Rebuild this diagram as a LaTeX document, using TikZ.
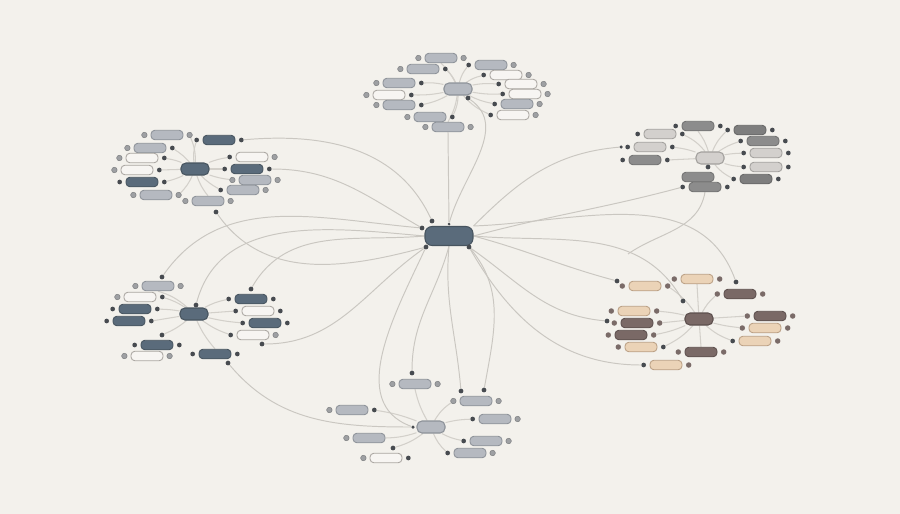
\documentclass[tikz,border=0pt]{standalone}
\usepackage{tikz}
\usetikzlibrary{positioning}

\definecolor{bgcol}{HTML}{F3F1EC}
\definecolor{edgecol}{HTML}{CAC7C1}
\definecolor{spokecol}{HTML}{D3D0CA}
\definecolor{slatefill}{HTML}{5A6B7B}
\definecolor{slateline}{HTML}{47545F}
\definecolor{bluefill}{HTML}{B5B9C0}
\definecolor{blueline}{HTML}{8D9299}
\definecolor{paperfill}{HTML}{F7F5F2}
\definecolor{paperline}{HTML}{ABA7A2}
\definecolor{lgfill}{HTML}{D3D0CD}
\definecolor{lgline}{HTML}{A2A09D}
\definecolor{mgfill}{HTML}{8C8C8C}
\definecolor{mgline}{HTML}{727272}
\definecolor{dgfill}{HTML}{7E7E7E}
\definecolor{dgline}{HTML}{666666}
\definecolor{brownfill}{HTML}{7A6966}
\definecolor{brownline}{HTML}{5C4F4D}
\definecolor{beigefill}{HTML}{EBD3B7}
\definecolor{beigeline}{HTML}{BBA085}
\definecolor{dotdark}{HTML}{474B50}
\definecolor{dotgray}{HTML}{9EA0A3}
\definecolor{dotbrown}{HTML}{7A6B68}

\pgfdeclarelayer{bg}
\pgfsetlayers{bg,main}

\tikzset{
  leaf/.style={rounded corners=2.2pt, minimum width=0.64cm, minimum height=0.19cm, inner sep=0pt, line width=0.5pt},
  hub/.style={rounded corners=2.8pt, minimum width=0.56cm, minimum height=0.24cm, inner sep=0pt, line width=0.6pt},
  slate/.style={fill=slatefill, draw=slateline},
  bluegray/.style={fill=bluefill, draw=blueline},
  paper/.style={fill=paperfill, draw=paperline},
  lightgray/.style={fill=lgfill, draw=lgline},
  midgray/.style={fill=mgfill, draw=mgline},
  darkgray/.style={fill=dgfill, draw=dgline},
  brown/.style={fill=brownfill, draw=brownline},
  beige/.style={fill=beigefill, draw=beigeline},
  dotd/.style={circle, fill=dotdark, inner sep=0pt, minimum size=0.095cm},
  dotg/.style={circle, fill=dotgray, draw=dotgray!80!black, line width=0.3pt, inner sep=0pt, minimum size=0.11cm},
  dotb/.style={circle, fill=dotbrown, inner sep=0pt, minimum size=0.11cm},
  nodot/.style={inner sep=0pt, minimum size=0.1cm},
  spoke/.style={draw=spokecol, line width=0.6pt},
  link/.style={draw=edgecol, line width=0.55pt}
}

\newcommand{\leaf}[6]{%
  \node[leaf,#4] (#1) at (#2,#3) {};
  \node[#5, left=1.8pt of #1] (#1-l) {};
  \node[#6, right=1.8pt of #1] (#1-r) {};}

\begin{document}
\begin{tikzpicture}[x=0.02cm, y=-0.02cm]
                      \useasboundingbox (0,0) rectangle (900,514);

                      \node[hub, slate, rounded corners=4pt, minimum width=0.96cm, minimum height=0.38cm] (mh) at (449,236) {};
                      \node[dotd] (m1) at (432,221) {};
                      \node[dotd, minimum size=0.06cm] (m2) at (449,224) {};
                      \node[dotd] (m3) at (422,228) {};
                      \node[dotd] (m4) at (426,247) {};
                      \node[dotd] (m5) at (469,247) {};

                      \node[hub, bluegray] (th) at (458,89) {};
                      \leaf{t1}{441}{58}{bluegray}{dotg}{dotg}
                      \leaf{t2}{423}{69}{bluegray}{dotg}{dotd}
                      \leaf{t3}{491}{65}{bluegray}{dotd}{dotg}
                      \leaf{t4}{506}{75}{paper}{dotd}{dotg}
                      \leaf{t5}{399}{83}{bluegray}{dotg}{dotd}
                      \leaf{t6}{521}{84}{paper}{dotd}{dotg}
                      \leaf{t7}{389}{95}{paper}{dotg}{dotd}
                      \leaf{t8}{525}{94}{paper}{dotd}{dotg}
                      \leaf{t9}{399}{105}{bluegray}{dotg}{dotd}
                      \leaf{t10}{517}{104}{bluegray}{dotd}{dotg}
                      \leaf{t11}{430}{117}{bluegray}{dotg}{dotd}
                      \leaf{t12}{513}{115}{paper}{dotd}{dotg}
                      \leaf{t13}{448}{127}{bluegray}{dotg}{dotg}
                      \node[dotd] (tx) at (468,98) {};

                      \node[hub, slate] (lh) at (195,169) {};
                      \leaf{l1}{167}{135}{bluegray}{dotg}{dotg}
                      \leaf{l2}{219}{140}{slate}{dotd}{dotd}
                      \leaf{l3}{150}{148}{bluegray}{dotg}{dotd}
                      \leaf{l4}{142}{158}{paper}{dotg}{dotd}
                      \leaf{l5}{252}{157}{paper}{dotd}{dotg}
                      \leaf{l6}{137}{170}{paper}{dotg}{dotd}
                      \leaf{l7}{247}{169}{slate}{dotd}{dotd}
                      \leaf{l8}{255}{180}{bluegray}{dotg}{dotg}
                      \leaf{l9}{142}{182}{slate}{dotd}{dotd}
                      \leaf{l10}{243}{190}{bluegray}{dotd}{dotg}
                      \leaf{l11}{156}{195}{bluegray}{dotg}{dotg}
                      \leaf{l12}{208}{201}{bluegray}{dotg}{dotg}
                      \node[dotd] (lx) at (216,212) {};

                      \node[hub, lightgray] (rh) at (710,158) {};
                      \leaf{r1}{698}{126}{midgray}{dotd}{dotd}
                      \leaf{r2}{660}{134}{lightgray}{dotd}{dotd}
                      \leaf{r3}{750}{130}{darkgray}{dotd}{dotd}
                      \leaf{r4}{763}{141}{midgray}{dotd}{dotd}
                      \leaf{r5}{650}{147}{lightgray}{dotd}{dotd}
                      \leaf{r6}{766}{153}{lightgray}{dotd}{dotd}
                      \leaf{r7}{645}{160}{midgray}{dotd}{dotd}
                      \leaf{r8}{766}{167}{lightgray}{dotd}{dotd}
                      \node[leaf, midgray] (r9) at (698,177) {};
                      \leaf{r10}{705}{187}{midgray}{dotd}{dotd}
                      \leaf{r11}{756}{179}{darkgray}{dotd}{dotd}
                      \node[dotd] (rx) at (708,167) {};
                      \node[dotd, minimum size=0.07cm] (ry) at (621,147) {};
                      \coordinate (rz) at (628,254);

                      \node[hub, slate] (blh) at (194,314) {};
                      \leaf{bl1}{158}{286}{bluegray}{dotg}{dotg}
                      \leaf{bl2}{140}{297}{paper}{dotg}{dotd}
                      \leaf{bl3}{251}{299}{slate}{dotd}{dotd}
                      \leaf{bl4}{135}{309}{slate}{dotd}{dotd}
                      \leaf{bl5}{258}{311}{paper}{dotd}{dotd}
                      \leaf{bl6}{129}{321}{slate}{dotd}{dotd}
                      \leaf{bl7}{265}{323}{slate}{dotd}{dotd}
                      \leaf{bl8}{253}{335}{paper}{dotd}{dotg}
                      \leaf{bl9}{157}{345}{slate}{dotd}{dotd}
                      \leaf{bl10}{147}{356}{paper}{dotg}{dotg}
                      \leaf{bl11}{215}{354}{slate}{dotd}{dotd}
                      \node[dotd] (blx1) at (162,277) {};
                      \node[dotd] (blx2) at (251,289) {};
                      \node[dotd] (blx3) at (196,305) {};
                      \node[dotd] (blx4) at (162,335) {};
                      \node[dotd] (blx5) at (262,344) {};
                      \node[dotd] (blx6) at (228,363) {};

                      \node[hub, brown] (brh) at (699,319) {};
                      \leaf{br1}{645}{286}{beige}{dotb}{dotb}
                      \leaf{br2}{697}{279}{beige}{dotb}{dotb}
                      \leaf{br3}{740}{294}{brown}{dotb}{dotb}
                      \leaf{br4}{634}{311}{beige}{dotb}{dotb}
                      \leaf{br5}{770}{316}{brown}{dotb}{dotb}
                      \leaf{br6}{637}{323}{brown}{dotb}{dotb}
                      \leaf{br7}{765}{328}{beige}{dotb}{dotb}
                      \leaf{br8}{631}{335}{brown}{dotb}{dotb}
                      \leaf{br9}{755}{341}{beige}{dotd}{dotb}
                      \leaf{br10}{641}{347}{beige}{dotb}{dotd}
                      \leaf{br11}{701}{352}{brown}{dotb}{dotb}
                      \leaf{br12}{666}{365}{beige}{dotd}{dotb}
                      \node[dotd] (brx1) at (617,281) {};
                      \node[dotd] (brx2) at (736,282) {};
                      \node[dotd] (brx3) at (683,301) {};
                      \node[dotd] (brx4) at (607,321) {};

                      \node[hub, bluegray] (bh) at (431,427) {};
                      \leaf{b1}{415}{384}{bluegray}{dotg}{dotg}
                      \leaf{b2}{476}{401}{bluegray}{dotg}{dotg}
                      \leaf{b3}{352}{410}{bluegray}{dotg}{dotd}
                      \leaf{b4}{495}{419}{bluegray}{dotd}{dotg}
                      \leaf{b5}{369}{438}{bluegray}{dotg}{nodot}
                      \leaf{b6}{486}{441}{bluegray}{dotd}{dotg}
                      \leaf{b7}{470}{453}{bluegray}{dotd}{dotg}
                      \leaf{b8}{386}{458}{paper}{dotg}{dotd}
                      \node[dotd] (bx1) at (412,373) {};
                      \node[dotd] (bx2) at (484,390) {};
                      \node[dotd] (bx3) at (461,391) {};
                      \node[dotd, minimum size=0.07cm] (bx4) at (413,427) {};
                      \node[dotd] (bx5) at (393,448) {};

                      \begin{pgfonlayer}{bg}
                      \fill[bgcol] (0,0) rectangle (900,514);

                      \draw[spoke] (th) to[bend right=10] (t1.south);
                      \draw[spoke] (th) to[bend right=12] (t2-r);
                      \draw[spoke] (th) to[bend left=12] (t3-l);
                      \draw[spoke] (th) to[bend left=10] (t4-l);
                      \draw[spoke] (th) to[bend right=8] (t5-r);
                      \draw[spoke] (th) to[bend left=8] (t6-l);
                      \draw[spoke] (th) to[bend left=6] (t7-r);
                      \draw[spoke] (th) to[bend right=6] (t8-l);
                      \draw[spoke] (th) to[bend left=8] (t9-r);
                      \draw[spoke] (th) to[bend right=8] (t10-l);
                      \draw[spoke] (th) to[bend left=12] (t11-r);
                      \draw[spoke] (th) to[bend right=12] (t12-l);
                      \draw[spoke] (th) to[bend left=10] (t13.north);

                      \draw[spoke] (lh) to[bend right=12] (l1-r);
                      \draw[spoke] (lh) to[bend left=12] (l2-l);
                      \draw[spoke] (lh) to[bend right=8] (l3-r);
                      \draw[spoke] (lh) to[bend right=6] (l4-r);
                      \draw[spoke] (lh) to[bend left=6] (l5-l);
                      \draw[spoke] (lh) -- (l6-r);
                      \draw[spoke] (lh) -- (l7-l);
                      \draw[spoke] (lh) to[bend right=6] (l8-l);
                      \draw[spoke] (lh) to[bend left=6] (l9-r);
                      \draw[spoke] (lh) to[bend right=8] (l10-l);
                      \draw[spoke] (lh) to[bend left=10] (l11-r);
                      \draw[spoke] (lh) to[bend right=10] (l12.north);

                      \draw[spoke] (rh) to[bend right=10] (r1.south);
                      \draw[spoke] (rh) to[bend right=12] (r2-r);
                      \draw[spoke] (rh) to[bend left=12] (r3-l);
                      \draw[spoke] (rh) to[bend left=8] (r4-l);
                      \draw[spoke] (rh) to[bend right=6] (r5-r);
                      \draw[spoke] (rh) to[bend left=4] (r6-l);
                      \draw[spoke] (rh) -- (r7-r);
                      \draw[spoke] (rh) to[bend right=6] (r8-l);
                      \draw[spoke] (rh) -- (rx);
                      \draw[spoke] (rh) to[bend right=12] (r11-l);

                      \draw[spoke] (blh) to[bend right=12] (bl1.south);
                      \draw[spoke] (blh) to[bend right=8] (bl2-r);
                      \draw[spoke] (blh) to[bend left=8] (bl3-l);
                      \draw[spoke] (blh) to[bend right=4] (bl4-r);
                      \draw[spoke] (blh) -- (bl5-l);
                      \draw[spoke] (blh) -- (bl6-r);
                      \draw[spoke] (blh) to[bend right=4] (bl7-l);
                      \draw[spoke] (blh) to[bend right=8] (bl8-l);
                      \draw[spoke] (blh) to[bend left=8] (blx4);
                      \draw[spoke] (blh) to[bend right=8] (bl11.north);

                      \draw[spoke] (brh) to[bend right=10] (br1-r);
                      \draw[spoke] (brh) -- (br2.south);
                      \draw[spoke] (brh) to[bend left=10] (br3-l);
                      \draw[spoke] (brh) to[bend right=4] (br4-r);
                      \draw[spoke] (brh) -- (br5-l);
                      \draw[spoke] (brh) -- (br6-r);
                      \draw[spoke] (brh) to[bend right=4] (br7-l);
                      \draw[spoke] (brh) to[bend left=6] (br8-r);
                      \draw[spoke] (brh) to[bend right=10] (br9-l);
                      \draw[spoke] (brh) to[bend left=10] (br10-r);
                      \draw[spoke] (brh) -- (br11.north);

                      \draw[spoke] (bh) to[bend left=8] (b1.south);
                      \draw[spoke] (bh) to[bend left=12] (b2-l);
                      \draw[spoke] (bh) to[bend right=6] (b3-r);
                      \draw[spoke] (bh) to[bend left=6] (b4-l);
                      \draw[spoke] (bh) to[bend left=8] (b5.east);
                      \draw[spoke] (bh) to[bend right=8] (b6-l);
                      \draw[spoke] (bh) to[bend right=12] (b7-l);
                      \draw[spoke] (bh) to[bend left=10] (bx5);

                      \draw[link] (t13.south) -- (m2);
                      \draw[link] (tx) to[out=-35, in=75] (m2);
                      \draw[link] (l2-r) to[out=5, in=115] (m1);
                      \draw[link] (l7-r) to[out=0, in=150] (m3);
                      \draw[link] (lx) to[out=-55, in=195] (m4);
                      \draw[link] (ry) to[out=185, in=45] (mh.north east);
                      \draw[link] (r10-l) to[out=195, in=15] (mh.east);
                      \draw[link] (r10.south) to[out=-100, in=35] (rz);
                      \draw[link] (mh.north east) to[out=2, in=110] (brx2);
                      \draw[link] (mh.east) to[out=-5, in=120] (brx3);
                      \draw[link] (mh.east) to[out=-15, in=165] (brx1);
                      \draw[link] (m5) to[out=-35, in=175] (brx4);
                      \draw[link] (m5) to[out=-60, in=180] (br12-l);
                      \draw[link] (m5) to[out=-50, in=80] (bx2);
                      \draw[link] (mh.south) to[out=-95, in=95] (bx3);
                      \draw[link] (mh.south) to[out=-105, in=90] (bx1);
                      \draw[link] (m4) to[out=-115, in=160] (bx4);
                      \draw[link] (blx6) to[out=-50, in=180] (bx4);
                      \draw[link] (blx1) to[out=55, in=175] (m3);
                      \draw[link] (blx3) to[out=75, in=175] (mh.west);
                      \draw[link] (blx2) to[out=60, in=185] (mh.west);
                      \draw[link] (blx5) to[out=0, in=215] (m4);
                      \end{pgfonlayer}
                  \end{tikzpicture}
\end{document}
